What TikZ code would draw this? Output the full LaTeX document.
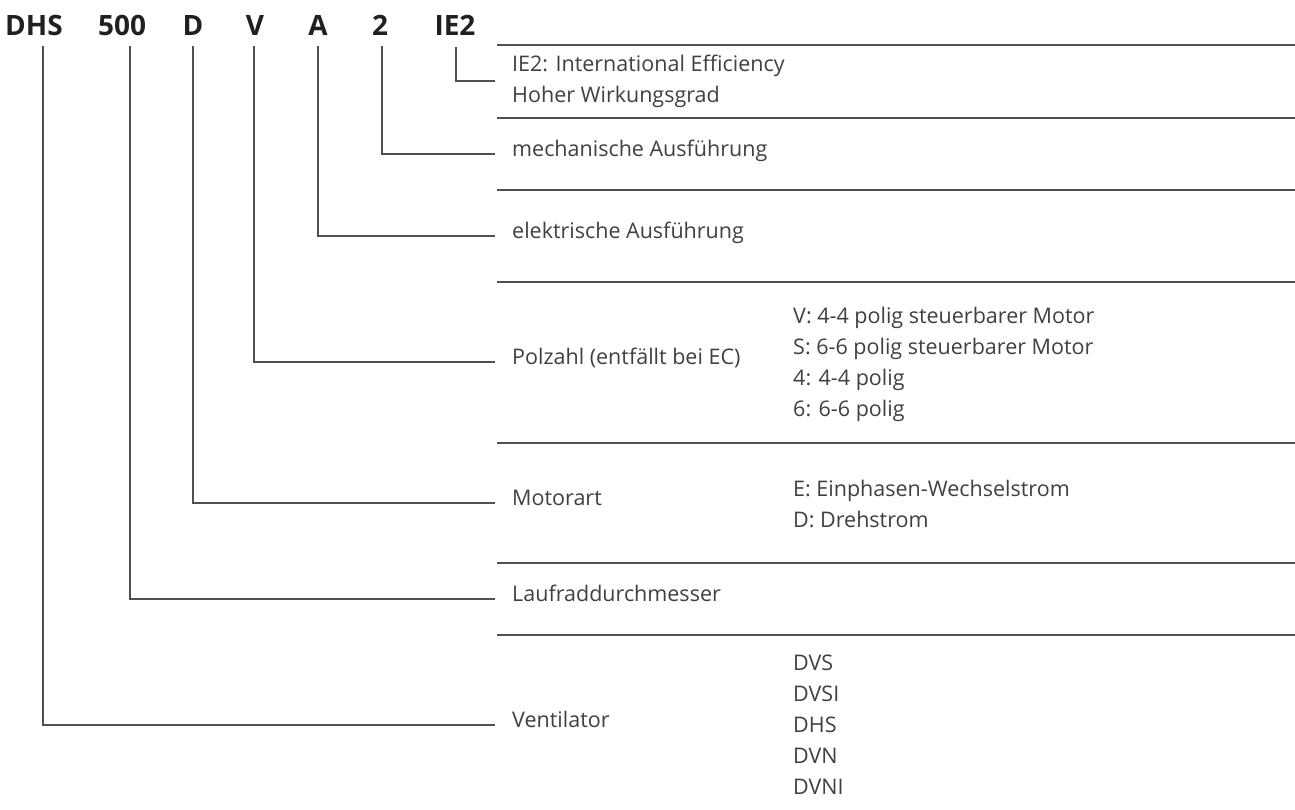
\documentclass[tikz,border=0pt]{standalone}
\usepackage{fontspec}
\setmainfont{Open Sans}
\definecolor{linec}{HTML}{505050}
\definecolor{textc}{HTML}{404040}
\definecolor{codec}{HTML}{231F20}
\begin{document}
\begin{tikzpicture}[x=1pt,y=-1pt,
  sep/.style={draw=linec, line width=1.3pt},
  leader/.style={draw=linec, line width=1.3pt},
  code/.style={font=\fontsize{28}{30}\selectfont\bfseries, text=codec, inner sep=0pt, anchor=base},
  lab/.style={font=\fontsize{21.5}{31}\selectfont, text=textc, inner sep=0pt, anchor=mid west},
  lst/.style={font=\fontsize{21.5}{31}\selectfont, text=textc, inner sep=0pt, anchor=west, align=left}]
\useasboundingbox (0,0) rectangle (1295,809);
% header codes
\node[code] (hDHS) at (34,35) {DHS};
\node[code] (h500) at (122,35) {500};
\node[code] (hD) at (193,35) {D};
\node[code] (hV) at (255,35) {V};
\node[code] (hA) at (318,35) {A};
\node[code] (h2) at (380,35) {2};
\node[code] (hIE) at (455,35) {IE2};
% leader start points
\coordinate (tDHS) at (43,46);
\coordinate (t500) at (130,46);
\coordinate (tD) at (193,46);
\coordinate (tV) at (254,46);
\coordinate (tA) at (318,46);
\coordinate (t2) at (382,46);
\coordinate (tIE) at (456,47);
% separators
\foreach \y in {45,118,190,282,443,563,635}
  \draw[sep] (497,\y) -- (1295,\y);
% labels
\node[lst] (lIE) at (512,81) {IE2: International Efficiency\\Hoher Wirkungsgrad};
\node[lab] (lMech) at (512,154) {mechanische Ausführung};
\node[lab] (lElek) at (512,236) {elektrische Ausführung};
\node[lab] (lPol) at (512,362) {Polzahl (entfällt bei EC)};
\node[lab] (lMot) at (512,503) {Motorart};
\node[lab] (lLauf) at (512,599) {Laufraddurchmesser};
\node[lab] (lVent) at (512,725) {Ventilator};
% value lists
\node[lst] (pPol) at (793,364) {V: 4-4 polig steuerbarer Motor\\S: 6-6 polig steuerbarer Motor\\4: 4-4 polig\\6: 6-6 polig};
\node[lst] (pMot) at (793,504) {E: Einphasen-Wechselstrom\\D: Drehstrom};
\node[lst] (pVent) at (793,725) {DVS\\DVSI\\DHS\\DVN\\DVNI};
% leaders
\draw[leader] (tIE) |- ([xshift=-17pt]lIE.west);
\draw[leader] (t2) |- ([xshift=-17pt]lMech.mid west);
\draw[leader] (tA) |- ([xshift=-17pt]lElek.mid west);
\draw[leader] (tV) |- ([xshift=-17pt]lPol.mid west);
\draw[leader] (tD) |- ([xshift=-17pt]lMot.mid west);
\draw[leader] (t500) |- ([xshift=-17pt]lLauf.mid west);
\draw[leader] (tDHS) |- ([xshift=-17pt]lVent.mid west);
\end{tikzpicture}
\end{document}
